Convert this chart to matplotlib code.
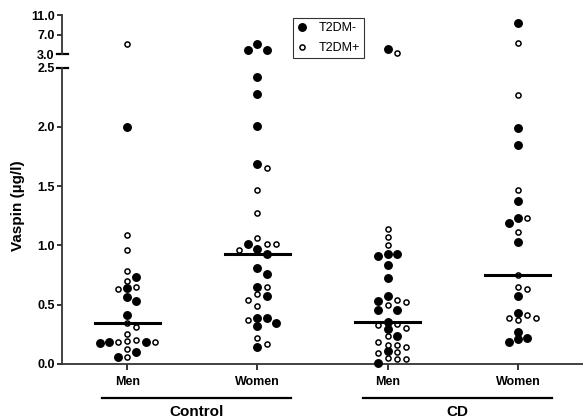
import numpy as np
import matplotlib
matplotlib.use('Agg')
import matplotlib.pyplot as plt
from matplotlib.lines import Line2D
from matplotlib.ticker import FormatStrFormatter

plt.rcParams['font.family'] = ['Liberation Sans', 'DejaVu Sans']
plt.rcParams['font.weight'] = 'bold'

# category labels
sexes = ['Men', 'Women', 'Men', 'Women']
studies = ['Control', 'CD']

# vaspin (ug/l), T2DM- (filled) and T2DM+ (open)
ctrl_men_neg = [2.0, 0.73, 0.64, 0.56, 0.53, 0.41, 0.18, 0.18, 0.175, 0.095, 0.06]
ctrl_men_pos = [5.0, 1.09, 0.96, 0.78, 0.70, 0.65, 0.63, 0.34, 0.31, 0.25,
                0.20, 0.19, 0.18, 0.18, 0.12, 0.06]
ctrl_women_neg = [5.1, 3.9, 3.9, 2.42, 2.28, 2.01, 1.69, 1.01, 0.97, 0.93,
                  0.81, 0.76, 0.65, 0.57, 0.39, 0.39, 0.34, 0.32, 0.14]
ctrl_women_pos = [1.65, 1.47, 1.27, 1.06, 1.01, 1.01, 0.96, 0.65, 0.59, 0.54,
                  0.49, 0.37, 0.22, 0.17]
cd_men_neg = [4.0, 0.93, 0.93, 0.91, 0.83, 0.72, 0.57, 0.53, 0.45, 0.45,
              0.35, 0.29, 0.23, 0.105, 0.01]
cd_men_pos = [3.3, 1.14, 1.07, 1.00, 0.54, 0.52, 0.50, 0.335, 0.33, 0.30,
              0.23, 0.18, 0.16, 0.155, 0.14, 0.10, 0.09, 0.05, 0.04, 0.04]
cd_women_neg = [9.4, 1.99, 1.85, 1.37, 1.23, 1.19, 1.03, 0.57, 0.43, 0.27,
                0.22, 0.21, 0.18]
cd_women_pos = [5.4, 2.27, 1.47, 1.23, 1.11, 0.75, 0.65, 0.63, 0.41, 0.39,
                0.39, 0.37]

neg_groups = [ctrl_men_neg, ctrl_women_neg, cd_men_neg, cd_women_neg]
pos_groups = [ctrl_men_pos, ctrl_women_pos, cd_men_pos, cd_women_pos]

fig = plt.figure(figsize=(5.83, 4.18), dpi=100)
left, width = 62 / 583, 521 / 583
ax_hi = fig.add_axes([left, 1 - 54.3 / 418, width, 39.3 / 418])
ax_lo = fig.add_axes([left, 1 - 363.7 / 418, width, 296 / 418])

ax_lo.set_xlim(0.5, 4.5)
ax_hi.set_xlim(0.5, 4.5)
ax_lo.set_ylim(0, 2.5)
ax_hi.set_ylim(3, 11)


def to_px(v):
    ax = ax_hi if v >= 3 else ax_lo
    return ax.transData.transform((1, v))[1]


# column spacing in data units (about 9 px)
px_per_x = ax_lo.transData.transform((1, 0))[0] - ax_lo.transData.transform((0, 0))[0]
col_w = 9.2 / px_per_x


def swarm(values):
    # greedy column placement, highest values first
    order = np.argsort(values)[::-1]
    placed = {}
    cols = np.zeros(len(values))
    for i in order:
        y = to_px(values[i])
        for k in range(40):
            c = (k + 1) // 2 * (1 if k % 2 else -1)
            if all(abs(y - yy) >= 6.5 for yy in placed.get(c, [])):
                placed.setdefault(c, []).append(y)
                cols[i] = c
                break
    return cols


for gi, (neg, pos) in enumerate(zip(neg_groups, pos_groups)):
    x0 = gi + 1
    vals = np.array(neg + pos, dtype=float)
    filled = np.array([True] * len(neg) + [False] * len(pos))
    xs = x0 + swarm(vals) * col_w
    for ax, mask in [(ax_hi, vals >= 3), (ax_lo, vals < 3)]:
        m = mask & filled
        ax.plot(xs[m], vals[m], 'o', ms=5.4, color='black', clip_on=False, zorder=3)
        m = mask & ~filled
        ax.plot(xs[m], vals[m], 'o', ms=3.7, mfc='white', mec='black', mew=1.1,
                clip_on=False, zorder=3)
    med = np.median(vals)
    ax_lo.plot([x0 - 0.25, x0 + 0.25], [med, med], color='black', lw=2.2, zorder=4)

# axes styling
for ax in (ax_hi, ax_lo):
    for s in ['top', 'right']:
        ax.spines[s].set_visible(False)
    ax.spines['left'].set_linewidth(1.3)
    ax.spines['left'].set_color('#333333')
    ax.tick_params(axis='y', direction='out', length=3.8, width=1.1, labelsize=9, pad=1.5)
    ax.yaxis.set_major_formatter(FormatStrFormatter('%.1f'))

ax_hi.spines['bottom'].set_visible(False)
ax_hi.set_xticks([])
ax_hi.set_yticks([3, 7, 11])
ax_lo.set_yticks([0, 0.5, 1.0, 1.5, 2.0, 2.5])
ax_lo.spines['bottom'].set_linewidth(1.3)
ax_lo.spines['bottom'].set_color('#333333')
ax_lo.set_xticks([1, 2, 3, 4])
ax_lo.set_xticklabels(sexes)
ax_lo.tick_params(axis='x', direction='out', length=4, width=1.1, labelsize=9, pad=5)

# axis break marks
d = 5.5 / 521
ax_lo.plot([-d, d], [1, 1], transform=ax_lo.transAxes, color='black', lw=1.6, clip_on=False)
ax_hi.plot([-d, d], [0, 0], transform=ax_hi.transAxes, color='black', lw=1.6, clip_on=False)

# study group brackets
for i, name in enumerate(studies):
    x1 = 2 * i + 1
    ax_lo.plot([x1 - 0.19, x1 + 1.26], [-0.115, -0.115], transform=ax_lo.get_xaxis_transform(),
               color='black', lw=1.6, clip_on=False)
    ax_lo.text(x1 + 0.535, -0.163, name, transform=ax_lo.get_xaxis_transform(),
               ha='center', va='center', fontsize=11, fontweight='bold')

fig.text(0.031, 1 - 206 / 418, 'Vaspin (µg/l)', rotation=90, ha='center', va='center',
         fontsize=11, fontweight='bold')

handles = [Line2D([], [], marker='o', ls='', ms=5.4, color='black'),
           Line2D([], [], marker='o', ls='', ms=3.7, mfc='white', mec='black', mew=1.1)]
leg = fig.legend(handles, ['T2DM-', 'T2DM+'], loc='upper left',
                 bbox_to_anchor=(293 / 583, 1 - 18 / 418), borderaxespad=0,
                 frameon=True, fancybox=False, edgecolor='black',
                 prop={'weight': 'normal', 'size': 9}, handlelength=0.8,
                 handletextpad=0.9, labelspacing=0.6, borderpad=0.35)
leg.get_frame().set_linewidth(0.8)

fig.savefig('out.png', dpi=100)
